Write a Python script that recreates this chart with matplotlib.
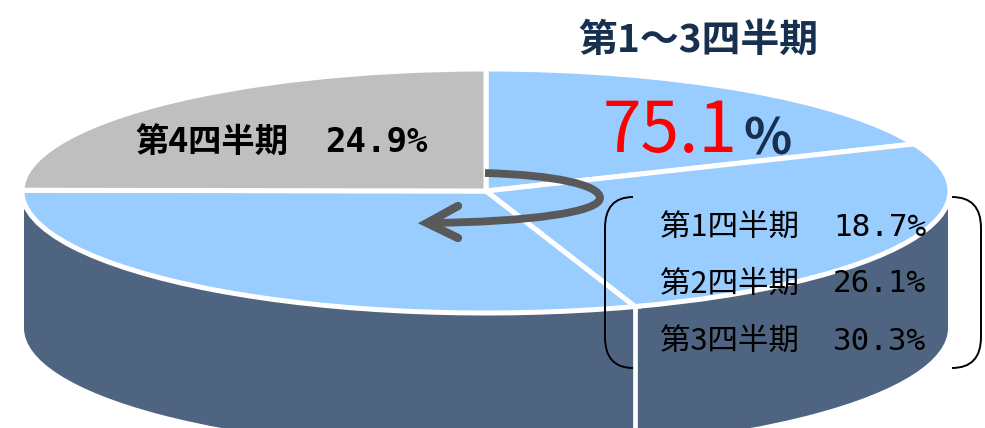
import numpy as np
import matplotlib
matplotlib.use("Agg")
import matplotlib.pyplot as plt
from matplotlib.patches import Ellipse, Rectangle, PathPatch
from matplotlib.path import Path

# quarters, clockwise from 12 o'clock
quarters = ["第1四半期", "第2四半期", "第3四半期", "第4四半期"]
shares = [18.7, 26.1, 30.3, 24.9]
share_labels = ["18.7%", "26.1%", "30.3%", "24.9%"]
title_text = "第1～3四半期"
total_text = "75.1"

BLUE = "#99CCFF"
GREY = "#BFBFBF"
WALL = "#4F6480"
NAVY = "#17304F"
ARROW = "#595959"
JP = "Noto Sans CJK JP"
MONO = "DejaVu Sans Mono"

W, H = 985, 428
cx, cy, rx, ry, depth = 486, 191, 464, 122, 137

fig = plt.figure(figsize=(W / 100, H / 100), dpi=100)

# pie axes: radius 1 data unit is stretched into the flat ellipse
ax = fig.add_axes([0, 0, 1, 1])
dz = depth / ry
ax.add_patch(Ellipse((0, -dz), 2 * 462 / rx, 2, fc=WALL, ec="none"))
ax.add_patch(Rectangle((-462 / rx, -dz), 2 * 462 / rx, dz, fc=WALL, ec="none"))
ax.pie(shares, colors=[BLUE, BLUE, BLUE, GREY], startangle=90, counterclock=False,
       radius=1, wedgeprops=dict(edgecolor="white", linewidth=3.6))

# white seam down the wall where Q2 meets Q3
ang = np.deg2rad(np.sum(shares[:2]) / 100 * 360)
ax.plot([np.sin(ang)] * 2, [np.cos(ang), -5], color="white", lw=3.4, zorder=3)
ax.set_aspect("auto")
ax.set_xlim(-cx / rx, (W - cx) / rx)
ax.set_ylim((cy - H) / ry, cy / ry)
ax.axis("off")

# overlay in image pixels for the notes
ov = fig.add_axes([0, 0, 1, 1], facecolor="none")
ov.set_xlim(0, W)
ov.set_ylim(H, 0)
ov.axis("off")

# curved arrow
curve = Path([(485, 173), (555, 175), (600, 185), (600, 198), (600, 212), (530, 222), (428, 223)],
             [Path.MOVETO, Path.CURVE4, Path.CURVE4, Path.CURVE4, Path.CURVE4, Path.CURVE4, Path.CURVE4])
ov.add_patch(PathPatch(curve, fc="none", ec=ARROW, lw=5.6, capstyle="butt"))
ov.plot([458, 427, 458], [206, 223, 238], color=ARROW, lw=6, solid_capstyle="round",
        solid_joinstyle="miter")

# brackets
for x0, x1 in [(633, 605), (952, 981)]:
    br = Path([(x0, 197), (x1, 197), (x1, 228), (x1, 337), (x1, 368), (x0, 368)],
              [Path.MOVETO, Path.CURVE3, Path.CURVE3, Path.LINETO, Path.CURVE3, Path.CURVE3])
    ov.add_patch(PathPatch(br, fc="none", ec="black", lw=1.4))

# text
ov.text(578, 40, title_text, family=JP, weight="bold", fontsize=28, color=NAVY, va="center", ha="left")
ov.text(603, 132, total_text, family=JP, fontsize=50, color="#FF0000", va="center", ha="left")
ov.text(743, 140, "%", family=JP, weight="bold", fontsize=36, color=NAVY, va="center", ha="left")

ov.text(135, 142, quarters[3], family=JP, weight="bold", fontsize=24, color="black", va="center", ha="left")
ov.text(325, 142, share_labels[3], family=MONO, weight="bold", fontsize=24.5, color="black", va="center", ha="left")

for q, lab, y in zip(quarters[:3], share_labels[:3], [227, 284, 341]):
    ov.text(660, y, q, family=JP, fontsize=22, color="black", va="center", ha="left")
    ov.text(833, y, lab, family=MONO, fontsize=22.3, color="black", va="center", ha="left")

fig.savefig("out.png", dpi=100)
